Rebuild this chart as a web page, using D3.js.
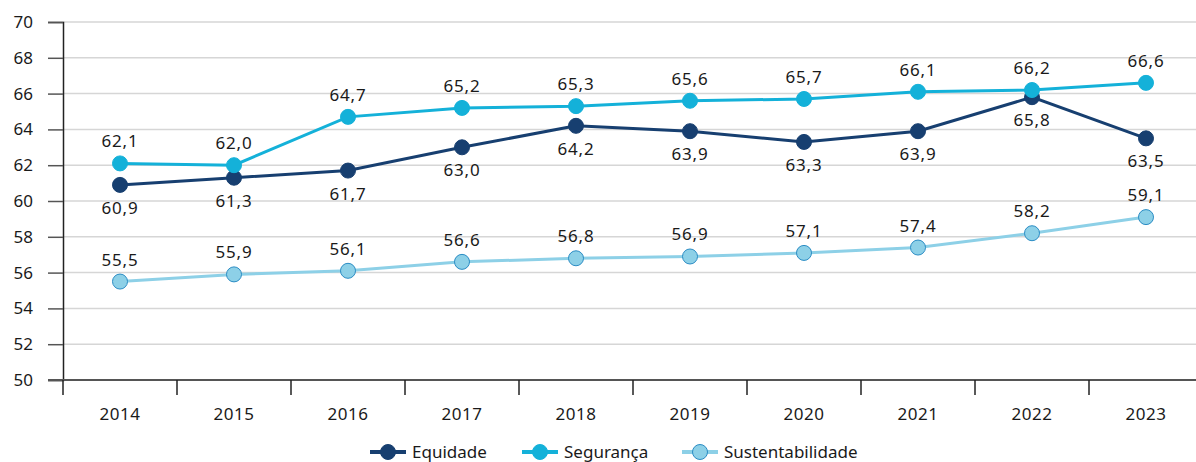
<!DOCTYPE html>
<html>
<head>
<meta charset="utf-8">
<script src="https://cdn.jsdelivr.net/npm/d3@7"></script>
<style>
  body { margin: 0; background: #fff; }
  svg { display: block; font-family: "Noto Sans", "Open Sans", sans-serif; }
</style>
</head>
<body>
<svg id="chart" width="1196" height="462"></svg>
<script>
var years = ["2014","2015","2016","2017","2018","2019","2020","2021","2022","2023"];
var equidade = [60.9, 61.3, 61.7, 63.0, 64.2, 63.9, 63.3, 63.9, 65.8, 63.5];
var seguranca = [62.1, 62.0, 64.7, 65.2, 65.3, 65.6, 65.7, 66.1, 66.2, 66.6];
var sustentabilidade = [55.5, 55.9, 56.1, 56.6, 56.8, 56.9, 57.1, 57.4, 58.2, 59.1];
var yTicks = [50, 52, 54, 56, 58, 60, 62, 64, 66, 68, 70];

var series = [
  {name: "Equidade", values: equidade, line: "#173f70", fill: "#173f70", stroke: "#173f70", pos: "below"},
  {name: "Segurança", values: seguranca, line: "#14b1d9", fill: "#14b1d9", stroke: "#14b1d9", pos: "above"},
  {name: "Sustentabilidade", values: sustentabilidade, line: "#8dd0e7", fill: "#8dd0e7", stroke: "#2a8cc4", pos: "above"}
];

var svg = d3.select("#chart");
var mLeft = 63, mTop = 22, mBottom = 380;

var x = d3.scaleBand().domain(years).range([mLeft, mLeft + 10 * 114]);
var y = d3.scaleLinear().domain([50, 70]).range([mBottom, mTop]);
var fmt = function(v) { return d3.format(".1f")(v).replace(".", ","); };

// gridlines
svg.append("g").selectAll("line")
  .data(yTicks.filter(function(t) { return t > 50; }))
  .enter().append("line")
  .attr("x1", mLeft).attr("x2", 1196)
  .attr("y1", function(d) { return y(d); }).attr("y2", function(d) { return y(d); })
  .attr("stroke", "#d6d6d6").attr("stroke-width", 1.5);

// y axis
var yAxis = svg.append("g")
  .attr("transform", "translate(" + mLeft + ",0)")
  .call(d3.axisLeft(y).tickValues(yTicks).tickSize(15).tickPadding(15).tickFormat(d3.format("d")));
yAxis.select(".domain").attr("stroke", "#222").attr("stroke-width", 1.5);
yAxis.selectAll(".tick line").attr("stroke", "#555").attr("stroke-width", 1.5);
yAxis.selectAll("text").attr("font-size", 17).attr("fill", "#1a1a1a")
  .attr("font-family", "Noto Sans, sans-serif");

// x axis
var xAxis = svg.append("g")
  .attr("transform", "translate(0," + mBottom + ")")
  .call(d3.axisBottom(x).tickSize(0).tickPadding(28));
xAxis.select(".domain").remove();
xAxis.selectAll("text").attr("font-size", 17).attr("fill", "#1a1a1a")
  .attr("letter-spacing", 0.5)
  .attr("font-family", "Noto Sans, sans-serif");
svg.append("line").attr("x1", mLeft - 15).attr("x2", 1196)
  .attr("y1", mBottom).attr("y2", mBottom)
  .attr("stroke", "#555").attr("stroke-width", 2);
svg.append("g").selectAll("line")
  .data(x.domain().concat(["end"]))
  .enter().append("line")
  .attr("x1", function(d, i) { return mLeft + i * x.step(); })
  .attr("x2", function(d, i) { return mLeft + i * x.step(); })
  .attr("y1", mBottom).attr("y2", mBottom + 15)
  .attr("stroke", "#222").attr("stroke-width", 1.5);

var cx = function(d, i) { return x(years[i]) + x.bandwidth() / 2; };
var line = d3.line().x(cx).y(function(d) { return y(d); });

series.forEach(function(s) {
  var g = svg.append("g");
  g.append("path").datum(s.values)
    .attr("d", line).attr("fill", "none")
    .attr("stroke", s.line).attr("stroke-width", 3);
  g.selectAll("circle").data(s.values).enter().append("circle")
    .attr("cx", cx).attr("cy", function(d) { return y(d); })
    .attr("r", 7.5).attr("fill", s.fill)
    .attr("stroke", s.stroke).attr("stroke-width", 1);
  g.selectAll("text").data(s.values).enter().append("text")
    .attr("x", cx)
    .attr("y", function(d) { return y(d) + (s.pos === "below" ? 29 : -16); })
    .attr("text-anchor", "middle").attr("font-size", 17).attr("fill", "#1a1a1a")
    .attr("letter-spacing", 0.8)
    .text(fmt);
});

// legend
var legendX = [370, 522, 682];
var legend = svg.append("g").selectAll("g").data(series).enter().append("g")
  .attr("transform", function(d, i) { return "translate(" + legendX[i] + ",452)"; });
legend.append("line").attr("x1", 0).attr("x2", 36).attr("y1", 0).attr("y2", 0)
  .attr("stroke", function(d) { return d.line; }).attr("stroke-width", 4);
legend.append("circle").attr("cx", 18).attr("cy", 0).attr("r", 7.5)
  .attr("fill", function(d) { return d.fill; })
  .attr("stroke", function(d) { return d.stroke; }).attr("stroke-width", 1);
legend.append("text").attr("x", 42).attr("y", 6).attr("font-size", 17)
  .attr("fill", "#1a1a1a").text(function(d) { return d.name; });
</script>
</body>
</html>
